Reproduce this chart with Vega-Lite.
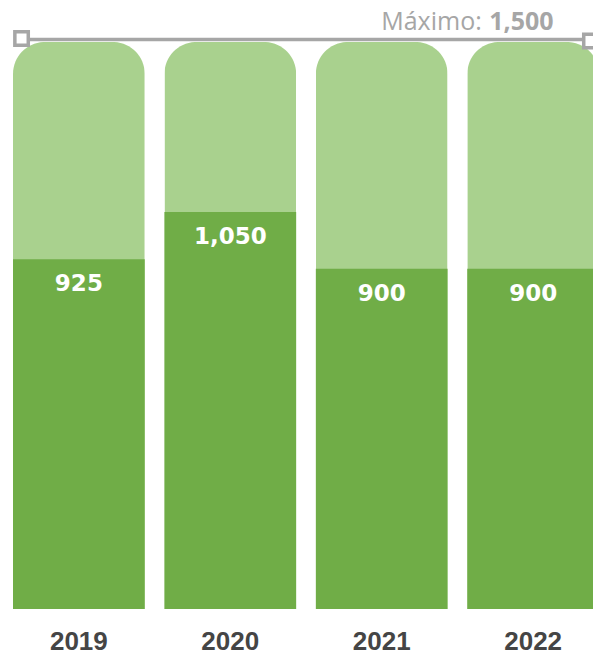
{
  "$schema": "https://vega.github.io/schema/vega-lite/v6.json",
  "autosize": "none",
  "width": 593,
  "height": 609,
  "padding": {"left": 0, "top": 0, "right": 0, "bottom": 45},
  "background": "white",
  "config": {"view": {"stroke": null}},
  "datasets": {
    "bars": [
      {"year": "2019", "value": 925, "max": 1500},
      {"year": "2020", "value": 1050, "max": 1500},
      {"year": "2021", "value": 900, "max": 1500},
      {"year": "2022", "value": 900, "max": 1500}
    ],
    "limit": [
      {"start": "2019", "end": "2022", "max": 1500, "label": "Máximo:"}
    ]
  },
  "layer": [
    {
      "data": {"name": "bars"},
      "mark": {"type": "bar", "color": "#A9D18E", "cornerRadiusTopLeft": 32, "cornerRadiusTopRight": 32},
      "encoding": {
        "x": {
          "field": "year", "type": "nominal", "sort": null,
          "scale": {"range": [13, 599], "paddingInner": 0.13, "paddingOuter": 0},
          "axis": {
            "title": null, "domain": false, "ticks": false, "labelAngle": 0,
            "labelFont": "Liberation Sans", "labelFontWeight": "bold", "labelFontSize": 26,
            "labelColor": "#454545", "labelPadding": 40, "labelBaseline": "alphabetic"
          }
        },
        "y": {"field": "max", "type": "quantitative", "scale": {"domain": [0, 1611], "nice": false, "zero": true}, "axis": null}
      }
    },
    {
      "data": {"name": "bars"},
      "mark": {"type": "bar", "color": "#70AD47"},
      "encoding": {
        "x": {"field": "year", "type": "nominal", "sort": null},
        "y": {"field": "value", "type": "quantitative"}
      }
    },
    {
      "data": {"name": "bars"},
      "mark": {"type": "text", "font": "DejaVu Sans", "fontWeight": "bold", "fontSize": 23, "color": "white", "baseline": "middle", "dy": 25},
      "encoding": {
        "x": {"field": "year", "type": "nominal", "sort": null},
        "y": {"field": "value", "type": "quantitative"},
        "text": {"field": "value", "type": "quantitative", "format": ","}
      }
    },
    {
      "data": {"name": "limit"},
      "mark": {"type": "rule", "color": "#a6a6a6", "strokeWidth": 3.5, "yOffset": -2.5},
      "encoding": {
        "x": {"field": "start", "type": "nominal", "bandPosition": 0.065},
        "x2": {"field": "end", "bandPosition": 0.935},
        "y": {"field": "max", "type": "quantitative"}
      }
    },
    {
      "data": {"name": "limit"},
      "mark": {"type": "point", "shape": "square", "size": 180, "filled": true, "fill": "white", "stroke": "#a6a6a6", "strokeWidth": 3.5, "opacity": 1, "yOffset": -3.5},
      "encoding": {
        "x": {"field": "start", "type": "nominal", "bandPosition": 0.065},
        "y": {"field": "max", "type": "quantitative"}
      }
    },
    {
      "data": {"name": "limit"},
      "mark": {"type": "point", "shape": "square", "size": 180, "filled": true, "fill": "white", "stroke": "#a6a6a6", "strokeWidth": 3.5, "opacity": 1, "yOffset": -1},
      "encoding": {
        "x": {"field": "end", "type": "nominal", "bandPosition": 0.935},
        "y": {"field": "max", "type": "quantitative"}
      }
    },
    {
      "data": {"name": "limit"},
      "mark": {"type": "text", "font": "Open Sans", "fontWeight": "bold", "fontSize": 25, "color": "#a6a6a6", "align": "right", "baseline": "alphabetic", "dy": -12},
      "encoding": {
        "x": {"field": "end", "type": "nominal", "bandPosition": 0.655},
        "y": {"field": "max", "type": "quantitative"},
        "text": {"field": "max", "type": "quantitative", "format": ","}
      }
    },
    {
      "data": {"name": "limit"},
      "mark": {"type": "text", "font": "Open Sans", "fontSize": 25, "color": "#a6a6a6", "align": "right", "baseline": "alphabetic", "dy": -12},
      "encoding": {
        "x": {"field": "end", "type": "nominal", "bandPosition": 0.11},
        "y": {"field": "max", "type": "quantitative"},
        "text": {"field": "label", "type": "nominal"}
      }
    }
  ]
}
